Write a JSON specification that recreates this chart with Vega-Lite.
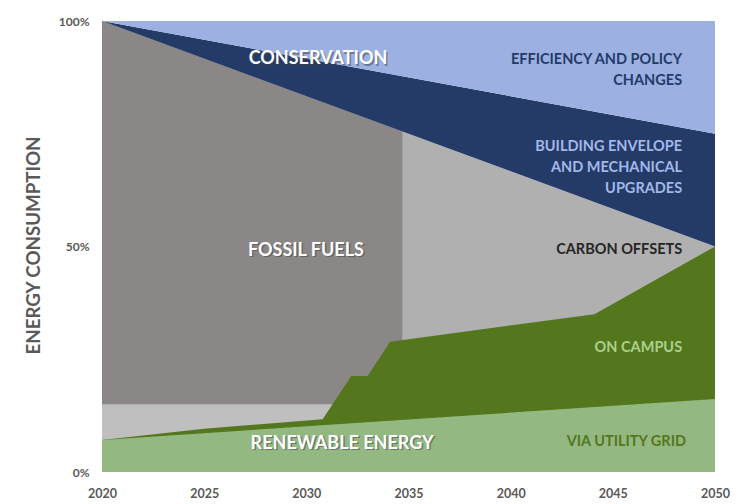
{
  "$schema": "https://vega.github.io/schema/vega-lite/v6.json",
  "width": 613,
  "height": 451,
  "autosize": "none",
  "padding": {"left": 102, "top": 21, "right": 35, "bottom": 32},
  "background": "white",
  "config": {"view": {"stroke": null}, "font": "Lato"},
  "datasets": {
    "areas": [
      {"series": "lightgray", "year": 2020, "lo": 0, "hi": 100},
      {"series": "lightgray", "year": 2050, "lo": 0, "hi": 50},
      {"series": "band", "year": 2020, "lo": 0, "hi": 15},
      {"series": "band", "year": 2031.3, "lo": 0, "hi": 15},
      {"series": "fossil", "year": 2020, "lo": 15, "hi": 100},
      {"series": "fossil", "year": 2034.7, "lo": 15, "hi": 75.5},
      {"series": "campus", "year": 2020, "lo": 0, "hi": 7.1},
      {"series": "campus", "year": 2025, "lo": 0, "hi": 9.6},
      {"series": "campus", "year": 2030.8, "lo": 0, "hi": 11.7},
      {"series": "campus", "year": 2032.2, "lo": 0, "hi": 21.3},
      {"series": "campus", "year": 2033, "lo": 0, "hi": 21.3},
      {"series": "campus", "year": 2034.1, "lo": 0, "hi": 28.9},
      {"series": "campus", "year": 2044.1, "lo": 0, "hi": 35},
      {"series": "campus", "year": 2050, "lo": 0, "hi": 50},
      {"series": "grid", "year": 2020, "lo": 0, "hi": 7.1},
      {"series": "grid", "year": 2050, "lo": 0, "hi": 16.2},
      {"series": "envelope", "year": 2020, "lo": 100, "hi": 100},
      {"series": "envelope", "year": 2050, "lo": 50, "hi": 75},
      {"series": "efficiency", "year": 2020, "lo": 100, "hi": 100},
      {"series": "efficiency", "year": 2050, "lo": 75, "hi": 100}
    ],
    "bigLabels": [
      {"label": "CONSERVATION", "year": 2030.57, "pct": 92.2},
      {"label": "FOSSIL FUELS", "year": 2029.98, "pct": 49.7},
      {"label": "RENEWABLE ENERGY", "year": 2031.75, "pct": 6.9}
    ],
    "sideLabels": [
      {"label": "EFFICIENCY AND POLICY", "year": 2048.39, "pct": 91.8, "grp": "eff"},
      {"label": "CHANGES", "year": 2048.39, "pct": 87.1, "grp": "eff"},
      {"label": "BUILDING ENVELOPE", "year": 2048.39, "pct": 72.5, "grp": "env"},
      {"label": "AND MECHANICAL", "year": 2048.39, "pct": 67.85, "grp": "env"},
      {"label": "UPGRADES", "year": 2048.39, "pct": 63.2, "grp": "env"},
      {"label": "CARBON OFFSETS", "year": 2048.39, "pct": 49.7, "grp": "off"},
      {"label": "ON CAMPUS", "year": 2048.39, "pct": 27.9, "grp": "campus"},
      {"label": "VIA UTILITY GRID", "year": 2048.58, "pct": 7.1, "grp": "grid"}
    ]
  },
  "encoding": {
    "x": {
      "field": "year", "type": "quantitative",
      "scale": {"domain": [2020, 2050], "nice": false, "zero": false},
      "axis": {"values": [2020, 2025, 2030, 2035, 2040, 2045, 2050], "format": "d", "title": null,
        "domain": false, "ticks": false, "grid": false, "labelPadding": 15, "labelFlush": false,
        "labelFont": "Lato", "labelFontSize": 12.5, "labelFontWeight": "bold", "labelColor": "#595959"}
    }
  },
  "layer": [
    {
      "data": {"name": "areas"},
      "transform": [{"filter": "datum.series === 'lightgray'"}],
      "mark": {"type": "area", "color": "#B0B0B0"},
      "encoding": {
        "y": {"field": "hi", "type": "quantitative",
          "scale": {"domain": [0, 100], "nice": false},
          "axis": {"values": [0, 50, 100], "labelExpr": "datum.value + '%'", "title": "ENERGY CONSUMPTION",
            "domain": false, "ticks": false, "grid": false, "labelPadding": 13, "labelFlush": false,
            "labelFont": "Lato", "labelFontSize": 12, "labelFontWeight": "bold", "labelColor": "#595959",
            "titleFont": "Lato", "titleFontSize": 18.7, "titleFontWeight": "bold", "titleColor": "#595959",
            "titleAngle": -90, "titleX": -69, "titleY": 224, "titleAlign": "center", "titleBaseline": "middle"}},
        "y2": {"field": "lo"}
      }
    },
    {
      "data": {"name": "areas"},
      "transform": [{"filter": "datum.series === 'band'"}],
      "mark": {"type": "area", "color": "#BFBFBF"},
      "encoding": {"y": {"field": "hi", "type": "quantitative"}, "y2": {"field": "lo"}}
    },
    {
      "data": {"name": "areas"},
      "transform": [{"filter": "datum.series === 'fossil'"}],
      "mark": {"type": "area", "color": "#8B8786"},
      "encoding": {"y": {"field": "hi", "type": "quantitative"}, "y2": {"field": "lo"}}
    },
    {
      "data": {"name": "areas"},
      "transform": [{"filter": "datum.series === 'campus'"}],
      "mark": {"type": "area", "color": "#54761C"},
      "encoding": {"y": {"field": "hi", "type": "quantitative"}, "y2": {"field": "lo"}}
    },
    {
      "data": {"name": "areas"},
      "transform": [{"filter": "datum.series === 'grid'"}],
      "mark": {"type": "area", "color": "#94B882"},
      "encoding": {"y": {"field": "hi", "type": "quantitative"}, "y2": {"field": "lo"}}
    },
    {
      "data": {"name": "areas"},
      "transform": [{"filter": "datum.series === 'envelope'"}],
      "mark": {"type": "area", "color": "#243B68"},
      "encoding": {"y": {"field": "hi", "type": "quantitative"}, "y2": {"field": "lo"}}
    },
    {
      "data": {"name": "areas"},
      "transform": [{"filter": "datum.series === 'efficiency'"}],
      "mark": {"type": "area", "color": "#9CB1E2"},
      "encoding": {"y": {"field": "hi", "type": "quantitative"}, "y2": {"field": "lo"}}
    },
    {
      "data": {"name": "bigLabels"},
      "mark": {"type": "text", "font": "Lato", "fontSize": 18, "fontWeight": "bold", "color": "#404040", "opacity": 0.5, "dx": 1.5, "dy": 4.5, "align": "center", "baseline": "middle"},
      "encoding": {"y": {"field": "pct", "type": "quantitative"}, "text": {"field": "label"}}
    },
    {
      "data": {"name": "bigLabels"},
      "mark": {"type": "text", "font": "Lato", "fontSize": 18, "fontWeight": "bold", "color": "white", "dy": 3, "align": "center", "baseline": "middle"},
      "encoding": {"y": {"field": "pct", "type": "quantitative"}, "text": {"field": "label"}}
    },
    {
      "data": {"name": "sideLabels"},
      "mark": {"type": "text", "font": "Lato", "fontSize": 14.5, "fontWeight": "bold", "dy": 2, "align": "right", "baseline": "middle"},
      "encoding": {
        "y": {"field": "pct", "type": "quantitative"},
        "text": {"field": "label"},
        "color": {"field": "grp", "type": "nominal", "legend": null,
          "scale": {"domain": ["eff", "env", "off", "campus", "grid"], "range": ["#243B68", "#A3B8E8", "#262626", "#A9D18E", "#54761C"]}}
      }
    }
  ]
}
